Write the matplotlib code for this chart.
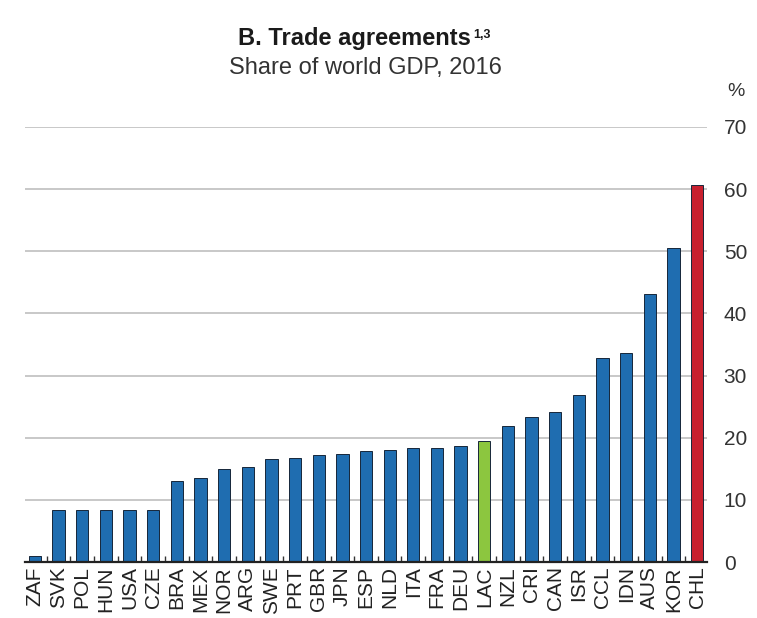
import numpy as np
import matplotlib
matplotlib.use("Agg")
import matplotlib.pyplot as plt
from matplotlib.ticker import MultipleLocator, FixedLocator

plt.rcParams['font.family'] = ['Liberation Sans', 'DejaVu Sans']

countries = ['ZAF', 'SVK', 'POL', 'HUN', 'USA', 'CZE', 'BRA', 'MEX', 'NOR', 'ARG',
             'SWE', 'PRT', 'GBR', 'JPN', 'ESP', 'NLD', 'ITA', 'FRA', 'DEU', 'LAC',
             'NZL', 'CRI', 'CAN', 'ISR', 'CCL', 'IDN', 'AUS', 'KOR', 'CHL']
share = [1.0, 8.4, 8.4, 8.4, 8.4, 8.4, 13.1, 13.5, 15.0, 15.3,
         16.5, 16.8, 17.2, 17.4, 17.8, 18.0, 18.3, 18.4, 18.7, 19.5,
         21.9, 23.4, 24.2, 26.8, 32.9, 33.7, 43.2, 50.5, 60.6]

BLUE, GREEN, RED = '#1f6db0', '#8cc63f', '#c8202f'
colors = [GREEN if c == 'LAC' else RED if c == 'CHL' else BLUE for c in countries]

fig = plt.figure(figsize=(7.57, 6.18), dpi=100)
ax = fig.add_axes([0.033, 0.0906, 0.901, 0.704])

x = np.arange(len(countries))
ax.bar(x, share, width=0.52, color=colors, edgecolor='#16263a', linewidth=0.7, zorder=3)

ax.set_xlim(-0.42, len(countries) - 0.58)
ax.set_ylim(0, 70)

# gridlines and right-hand labels
ax.yaxis.set_major_locator(MultipleLocator(10))
ax.yaxis.tick_right()
ax.tick_params(axis='y', length=0, pad=12, labelsize=15, colors='#333333')
for v in range(10, 71, 10):
    ax.axhline(v, color='#c4c4c4', linewidth=1.3, zorder=1)

ax.set_xticks(x)
ax.set_xticklabels(countries, rotation=90, fontsize=15, color='#222222')
ax.tick_params(axis='x', length=0, pad=3)
ax.xaxis.set_minor_locator(FixedLocator(x[:-1] + 0.5))
ax.tick_params(axis='x', which='minor', direction='in', length=4, width=1, color='#333333')

for s in ['top', 'left', 'right']:
    ax.spines[s].set_visible(False)
ax.spines['bottom'].set_linewidth(1.6)
ax.spines['bottom'].set_color('#222222')
ax.spines['bottom'].set_zorder(4)

title = fig.text(0.468, 0.938, 'B. Trade agreements', ha='center', va='center',
                 fontsize=17, fontweight='bold', color='#1a1a1a')
fig.canvas.draw()
bb = title.get_window_extent().transformed(fig.transFigure.inverted())
fig.text(bb.x1 + 0.003, bb.y1 - 0.004, '1,3', ha='left', va='top',
         fontsize=9, fontweight='bold', color='#1a1a1a')
fig.text(0.483, 0.890, 'Share of world GDP, 2016', ha='center', va='center',
         fontsize=17, color='#333333')
fig.text(0.972, 0.852, '%', ha='center', va='center', fontsize=14, color='#333333')

plt.savefig('out.png', dpi=100, facecolor='white')
